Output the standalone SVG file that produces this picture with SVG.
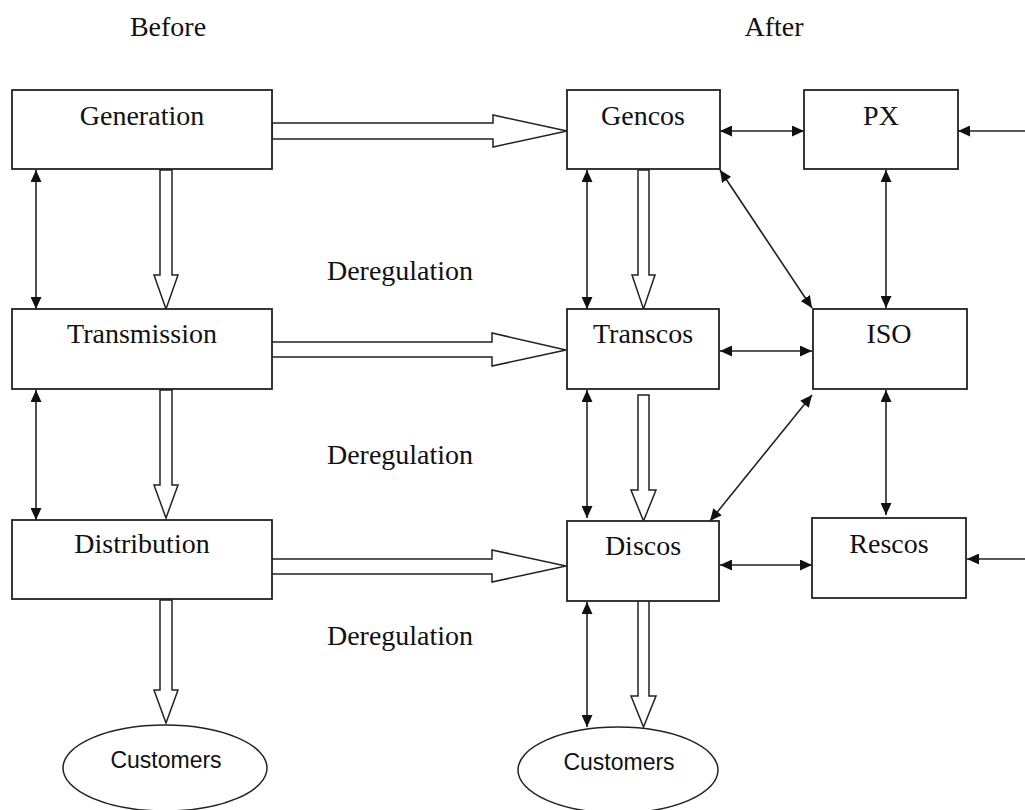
<svg xmlns="http://www.w3.org/2000/svg" width="1025" height="810" viewBox="0 0 1025 810">
<defs>
<marker id="ah" viewBox="0 0 12 11" refX="12" refY="5.5" markerWidth="12" markerHeight="11" markerUnits="userSpaceOnUse" orient="auto-start-reverse">
<path d="M0,0 L12,5.5 L0,11 Z" fill="#111"/>
</marker>
</defs>
<style>
.box{fill:#fff;stroke:#222;stroke-width:1.8}
.lbl{font-family:"Liberation Serif","Times New Roman",serif;font-size:28px;fill:#111;text-anchor:middle}
.cust{font-family:"Liberation Sans",Arial,sans-serif;font-size:23px;fill:#111;text-anchor:middle}
.ln{stroke:#222;stroke-width:1.6;fill:none}
.bi{marker-start:url(#ah);marker-end:url(#ah)}
.one{marker-end:url(#ah)}
.hol{fill:#fff;stroke:#222;stroke-width:1.5;stroke-linejoin:miter}
</style>
<rect width="1025" height="810" fill="#fff"/>
<text class="lbl" x="168" y="36">Before</text>
<text class="lbl" x="774" y="36">After</text>
<text class="lbl" x="400" y="280">Deregulation</text>
<text class="lbl" x="400" y="464">Deregulation</text>
<text class="lbl" x="400" y="645">Deregulation</text>

<g id="connectors">
<polygon class="hol" points="272,123 493,123 493,115 567,131 493,147 493,139 272,139"/>
<polygon class="hol" points="271,342 492,342 492,333 566,350 492,366 492,357 271,357"/>
<polygon class="hol" points="271,559 492,559 492,550 566,566 492,582 492,574 271,574"/>
<polygon class="hol" points="160,170 172,170 172,275 178,275 166,309 154,275 160,275"/>
<polygon class="hol" points="160,390 172,390 172,485 178,485 166,518 154,485 160,485"/>
<polygon class="hol" points="160,600 172,600 172,690 178,690 166,723 154,690 160,690"/>
<polygon class="hol" points="638,170 649,170 649,275 655,275 643.5,309 632,275 638,275"/>
<polygon class="hol" points="638,395 649,395 649,490 656,490 643.5,521 631,490 638,490"/>
<polygon class="hol" points="638,599 649,599 649,696 656,696 643.5,727 631,696 638,696"/>
<line class="ln bi" x1="36" y1="170" x2="36" y2="309"/>
<line class="ln bi" x1="36" y1="390" x2="36" y2="520"/>
<line class="ln bi" x1="587" y1="170" x2="587" y2="309"/>
<line class="ln bi" x1="587" y1="390" x2="587" y2="518"/>
<line class="ln bi" x1="587" y1="602" x2="587" y2="727"/>
<line class="ln bi" x1="720" y1="131" x2="804" y2="131"/>
<line class="ln one" x1="1025" y1="131" x2="958" y2="131"/>
<line class="ln bi" x1="886" y1="170" x2="886" y2="308"/>
<line class="ln bi" x1="720" y1="170" x2="812" y2="308"/>
<line class="ln bi" x1="720" y1="351" x2="812" y2="351"/>
<line class="ln bi" x1="812" y1="395" x2="710" y2="521"/>
<line class="ln bi" x1="886" y1="390" x2="886" y2="515"/>
<line class="ln bi" x1="720" y1="565" x2="812" y2="565"/>
<line class="ln one" x1="1025" y1="559" x2="967" y2="559"/>
</g>

<g id="generation"><rect class="box" x="12" y="90" width="260" height="79"/><text class="lbl" x="142" y="125">Generation</text></g>
<g id="transmission"><rect class="box" x="12" y="309" width="260" height="80"/><text class="lbl" x="142" y="343">Transmission</text></g>
<g id="distribution"><rect class="box" x="12" y="520" width="260" height="79"/><text class="lbl" x="142" y="553">Distribution</text></g>
<g id="customers-before"><ellipse cx="165" cy="768" rx="102" ry="43" fill="#fff" stroke="#222" stroke-width="1.5"/><text class="cust" x="166" y="768">Customers</text></g>

<g id="gencos"><rect class="box" x="567" y="90" width="153" height="79"/><text class="lbl" x="643" y="125">Gencos</text></g>
<g id="px"><rect class="box" x="804" y="90" width="154" height="79"/><text class="lbl" x="881" y="125">PX</text></g>
<g id="transcos"><rect class="box" x="567" y="309" width="152" height="80"/><text class="lbl" x="643" y="343">Transcos</text></g>
<g id="iso"><rect class="box" x="813" y="309" width="154" height="80"/><text class="lbl" x="889" y="343">ISO</text></g>
<g id="discos"><rect class="box" x="567" y="521" width="152" height="80"/><text class="lbl" x="643" y="555">Discos</text></g>
<g id="rescos"><rect class="box" x="812" y="518" width="154" height="80"/><text class="lbl" x="889" y="553">Rescos</text></g>
<g id="customers-after"><ellipse cx="618" cy="770" rx="100" ry="43" fill="#fff" stroke="#222" stroke-width="1.5"/><text class="cust" x="619" y="770">Customers</text></g>
</svg>
